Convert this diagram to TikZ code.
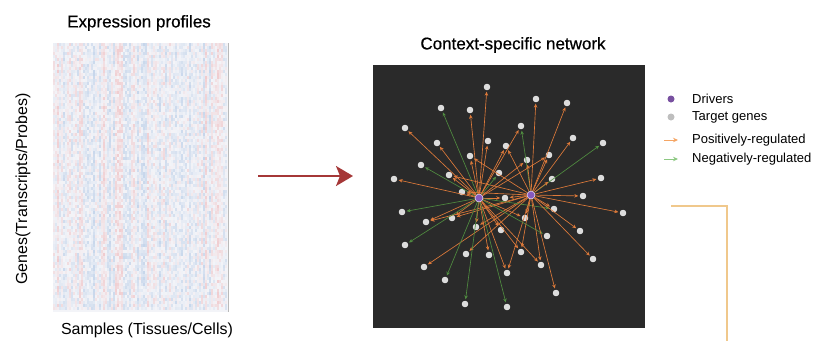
\documentclass[tikz,border=0pt]{standalone}
\usepackage{fontspec}
\setmainfont{Liberation Sans}
\newfontfamily\titlefont[FakeBold=0.6]{Liberation Sans}
\usetikzlibrary{arrows.meta}
\definecolor{hmbase}{RGB}{243,244,248}
\definecolor{hmred}{RGB}{235,120,120}
\definecolor{hmblue}{RGB}{110,155,210}
\definecolor{netbg}{RGB}{42,42,42}
\definecolor{posc}{RGB}{222,122,58}
\definecolor{negc}{RGB}{80,140,64}
\definecolor{tgtc}{RGB}{220,220,220}
\definecolor{drvc}{RGB}{135,90,190}
\definecolor{bigarrow}{RGB}{165,55,55}
\definecolor{lgpos}{RGB}{245,165,100}
\definecolor{lgneg}{RGB}{140,200,130}
\definecolor{lgdrv}{RGB}{120,80,160}
\definecolor{lgtgt}{RGB}{190,190,190}
\definecolor{bracketc}{RGB}{240,200,140}
\begin{document}
\begin{tikzpicture}[x=1pt,y=-1pt,
  tgt/.style={circle,fill=tgtc,draw=white!70!tgtc,line width=0.4pt,inner sep=0pt,minimum size=6pt},
  drv/.style={circle,fill=drvc,draw=white!75!drvc,line width=0.7pt,inner sep=0pt,minimum size=8pt},
  posedge/.style={draw=posc,line width=0.65pt,-{Stealth[length=4pt,width=3.5pt]},shorten >=1.5pt},
  negedge/.style={draw=negc,line width=0.65pt,-{Stealth[length=4pt,width=3.5pt]},shorten >=1.5pt},
  ttl/.style={font=\titlefont\fontsize{17}{20}\selectfont},
  axl/.style={font=\fontsize{16}{19}\selectfont},
  lgt/.style={font=\fontsize{13}{15}\selectfont,anchor=west,inner sep=0pt},
  lgdot/.style={circle,inner sep=0pt,minimum size=7pt}
]
\useasboundingbox (0,0) rectangle (814,341);
% ---------- heatmap ----------
\fill[hmbase] (53,43) rectangle (228,312);
\pgfmathsetseed{42}
\foreach \i in {0,...,86}{
  \pgfmathsetmacro{\cb}{rand}
  \foreach \j in {0,...,88}{
    \pgfmathsetmacro{\v}{0.6*\cb+0.5*rand}
    \pgfmathsetmacro{\p}{min(abs(\v)*32,40)}
    \ifdim\v pt>0pt\def\hc{hmred}\else\def\hc{hmblue}\fi
    \fill[\hc!\p!hmbase] ({53+\i*2},{43+\j*3}) rectangle ++(2.1,3.1);
  }
}
\draw[gray!55,line width=0.8pt] (228,43) -- (228,312);
\node[ttl] (t-expr) at (139,23) {Expression profiles};
\node[axl] (t-samples) at (147,330) {Samples (Tissues/Cells)};
\node[axl,rotate=90] (t-genes) at (23,189) {Genes(Transcripts/Probes)};
% ---------- big arrow ----------
\coordinate (arra) at (258,176);
\coordinate (arrb) at (353,176);
\draw[bigarrow,line width=1.8pt,-{Stealth[length=17pt,width=20pt,inset=4pt]}] (arra) -- (arrb);
% ---------- network ----------
\node[ttl] (t-net) at (513,45) {Context-specific network};
\fill[netbg] (373,65) rectangle (645,328);
\node[drv] (d1) at (479,198) {};
\node[drv] (d2) at (531,195) {};
\foreach \n/\x/\y in {1/487/87, 2/441/108, 3/470/110, 4/405/128, 5/437/143, 6/488/141,
  7/506/146, 8/470/156, 9/421/165, 10/449/175, 11/499/173, 12/394/179, 13/462/192,
  14/536/99, 15/567/103, 16/521/126, 17/573/138, 18/603/143, 19/549/155, 20/527/160,
  21/552/179, 22/601/178, 23/583/196, 24/505/198, 25/402/212, 26/426/222, 27/452/218,
  28/476/227, 29/501/230, 30/405/245, 31/466/254, 32/489/255, 33/424/267, 34/445/280,
  35/507/273, 36/465/304, 37/507/307, 38/554/209, 39/623/213, 40/525/218, 41/580/231,
  42/547/236, 43/521/252, 44/593/259, 45/541/265, 46/556/293}
  \node[tgt] (t\n) at (\x,\y) {};
\foreach \s/\t/\c in {1/1/posedge, 1/2/negedge, 1/3/posedge, 1/4/posedge, 1/5/posedge,
  1/6/posedge, 1/7/posedge, 2/7/posedge, 1/8/posedge, 2/8/posedge, 1/9/negedge,
  1/10/posedge, 2/10/posedge, 1/11/negedge, 1/12/posedge, 1/13/posedge, 2/13/posedge,
  2/14/posedge, 2/15/posedge, 2/16/negedge, 1/16/posedge, 2/17/posedge, 2/18/negedge,
  2/19/posedge, 1/19/posedge, 2/20/posedge, 1/20/posedge, 2/21/posedge, 2/22/posedge,
  2/23/posedge, 1/24/posedge, 2/24/posedge, 1/25/negedge, 1/26/posedge, 2/26/posedge,
  1/27/posedge, 2/27/posedge, 1/28/posedge, 2/28/posedge, 1/29/posedge, 1/30/negedge,
  2/31/posedge, 1/32/posedge, 2/33/posedge, 1/34/negedge, 1/35/posedge, 2/35/posedge,
  1/36/negedge, 1/37/negedge, 2/38/posedge, 1/38/negedge, 2/39/posedge, 2/40/posedge,
  1/40/posedge, 2/41/posedge, 1/42/negedge, 2/43/posedge, 1/43/posedge, 2/44/posedge,
  1/45/posedge, 2/45/posedge, 2/46/posedge}
  \draw[\c] (d\s) -- (t\t);
% ---------- legend ----------
\node[lgdot,fill=lgdrv] (ldrv) at (671,99) {};
\node[lgt] (ldrvt) at (692,99) {Drivers};
\node[lgdot,fill=lgtgt] (ltgt) at (671,117) {};
\node[lgt] (ltgtt) at (692,117) {Target genes};
\coordinate (lpa) at (664,140);
\coordinate (lpb) at (678,140);
\draw[lgpos,line width=0.8pt,-{Stealth[length=5pt,width=4.5pt]}] (lpa) -- (lpb);
\node[lgt] (lpost) at (692,140) {Positively-regulated};
\coordinate (lna) at (664,159);
\coordinate (lnb) at (678,159);
\draw[lgneg,line width=0.8pt,-{Stealth[length=5pt,width=4.5pt]}] (lna) -- (lnb);
\node[lgt] (lnegt) at (692,159) {Negatively-regulated};
% ---------- bracket line ----------
\coordinate (bra) at (671,206);
\coordinate (brb) at (727,206);
\coordinate (brc) at (727,341);
\draw[bracketc,line width=1.2pt] (bra) -- (brb) -- (brc);
\end{tikzpicture}
\end{document}
